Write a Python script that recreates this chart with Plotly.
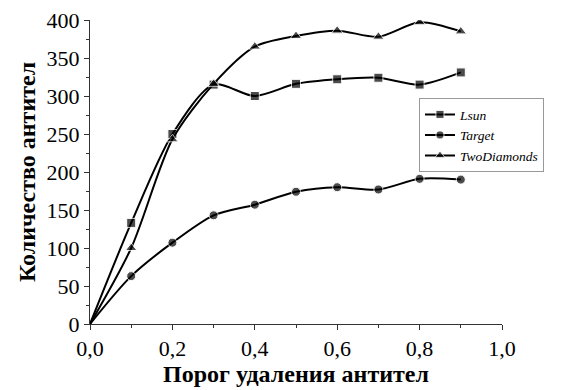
import plotly.graph_objects as go

x = [0.0, 0.1, 0.2, 0.3, 0.4, 0.5, 0.6, 0.7, 0.8, 0.9]
lsun = [0, 133, 250, 315, 300, 316, 322, 324, 315, 331]
target = [0, 63, 107, 143, 157, 174, 180, 177, 191, 190]
two_diamonds = [0, 100, 243, 316, 365, 379, 386, 378, 397, 385]

x_ticks = [0.0, 0.2, 0.4, 0.6, 0.8, 1.0]
x_tick_text = ["0,0", "0,2", "0,4", "0,6", "0,8", "1,0"]
y_ticks = [0, 50, 100, 150, 200, 250, 300, 350, 400]

FONT = "Liberation Serif"

fig = go.Figure()
series = [
    ("Lsun", lsun, "square", 9),
    ("Target", target, "circle", 9),
    ("TwoDiamonds", two_diamonds, "triangle-up", 10),
]
for name, ys, sym, sz in series:
    sizes = [0] + [sz] * (len(x) - 1)
    fig.add_trace(go.Scatter(
        x=x, y=ys, name=name, mode="lines+markers",
        line=dict(color="black", width=2, shape="spline", smoothing=0.8),
        marker=dict(symbol=sym, size=sizes, color="black"),
    ))

fig.update_layout(
    width=568, height=390,
    margin=dict(l=90, r=66, t=20, b=66, autoexpand=False),
    paper_bgcolor="white", plot_bgcolor="white",
    font=dict(family=FONT, color="black"),
    showlegend=True,
    legend=dict(
        x=0.7985, y=0.743, xanchor="left", yanchor="top",
        xref="paper", yref="paper",
        bgcolor="white", bordercolor="#999999", borderwidth=1,
        font=dict(family=FONT, size=13.5, style="italic", color="black"),
        tracegroupgap=0, itemwidth=30,
    ),
    xaxis=dict(
        range=[0, 1.0], tickvals=x_ticks, ticktext=x_tick_text, automargin=False,
        ticks="outside", ticklen=5, tickwidth=1, tickcolor="#333",
        showline=True, linecolor="#333", linewidth=1, showgrid=False, zeroline=False,
        minor=dict(dtick=0.1, ticks="outside", ticklen=3, tickcolor="#333"),
        tickfont=dict(family=FONT, size=22),
        title=dict(text="<b>Порог удаления антител</b>", font=dict(family=FONT, size=24), standoff=4),
    ),
    yaxis=dict(
        range=[0, 400], tickvals=y_ticks, automargin=False,
        ticks="outside", ticklen=5, tickwidth=1, tickcolor="#333",
        showline=True, linecolor="#333", linewidth=1, showgrid=False, zeroline=False,
        minor=dict(dtick=25, ticks="outside", ticklen=3, tickcolor="#333"),
        tickfont=dict(family=FONT, size=22),
        title=dict(text="<b>Количество антител</b>", font=dict(family=FONT, size=24), standoff=4),
    ),
)

fig.write_html(
    "out.html",
    config={"displayModeBar": False},
    post_script="document.body.style.margin='0';document.body.style.padding='0';",
)
